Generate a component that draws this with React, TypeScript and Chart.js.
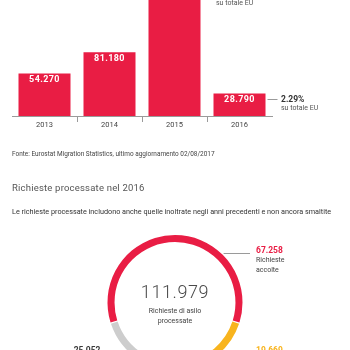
import { useEffect, useRef } from 'react';
import { Chart, registerables } from 'chart.js';

Chart.register(...registerables);

// ---- data ----
const years = ['2013', '2014', '2015', '2016'];
const applications = [54270, 81180, 162450, 28790];
const euShare: (number | null)[] = [null, null, 12.28, 2.29];
const shareCaption = 'su totale EU';
const barScaleMax = 148000;

const decisionLabels = ['Richieste accolte', 'Richieste respinte', 'Altre decisioni'];
const decisionValues = [67258, 19669, 25052];
const decisionCaptions = [['Richieste', 'accolte'], ['Richieste', 'respinte'], ['Altre', 'decisioni']];
const totalProcessed = 111979;
const centerCaption = ['Richieste di asilo', 'processate'];

const sourceText = 'Fonte: Eurostat Migration Statistics, ultimo aggiornamento 02/08/2017';
const titleText = 'Richieste processate nel 2016';
const subtitleText = 'Le richieste processate includono anche quelle inoltrate negli anni precedenti e non ancora smaltite';

// ---- styles ----
const RED = '#E91D44';
const YELLOW = '#F8B41E';
const GRAY = '#CDCDCD';
const FONT = 'Roboto, "Open Sans", sans-serif';

const fmt = (n: number) => String(n).replace(/\B(?=(\d{3})+(?!\d))/g, '.');

const barLabels = {
  id: 'barLabels',
  afterDatasetsDraw(chart: any) {
    const ctx = chart.ctx;
    const meta = chart.getDatasetMeta(0);
    ctx.save();
    meta.data.forEach((bar: any, i: number) => {
      const { x, y, width } = bar.getProps(['x', 'y', 'width'], true);
      ctx.fillStyle = '#fff';
      ctx.font = `bold 9px ${FONT}`;
      ctx.textAlign = 'center';
      ctx.textBaseline = 'middle';
      (ctx as any).letterSpacing = '0.4px';
      ctx.fillText(fmt(applications[i]), x, y + 6);
      (ctx as any).letterSpacing = '0px';
      const share = euShare[i];
      if (share != null) {
        const right = x + width / 2;
        const ly = Math.round(y + 6) + 0.5;
        ctx.strokeStyle = '#9a9a9a';
        ctx.lineWidth = 1;
        ctx.beginPath();
        ctx.moveTo(right + 2, ly);
        ctx.lineTo(right + 12, ly);
        ctx.stroke();
        ctx.textAlign = 'left';
        ctx.fillStyle = '#333';
        ctx.font = `bold 8.5px ${FONT}`;
        ctx.fillText(share.toFixed(2) + '%', right + 15.5, y + 6);
        ctx.fillStyle = '#555';
        ctx.font = `7px ${FONT}`;
        ctx.fillText(shareCaption, right + 15.5, y + 15);
      }
    });
    ctx.restore();
  },
};

const labelPlacement = [
  { dx: 81, dy: -51.5, align: 'left' },
  { dx: 81, dy: 48.5, align: 'left' },
  { dx: -74.5, dy: 48.5, align: 'right' },
];
const labelColors = [RED, YELLOW, '#3a3a3a'];

const donutLabels = {
  id: 'donutLabels',
  afterDraw(chart: any) {
    const ctx = chart.ctx;
    const arc = chart.getDatasetMeta(0).data[0];
    const { x: cx, y: cy, outerRadius } = arc.getProps(['x', 'y', 'outerRadius'], true);
    ctx.save();
    ctx.textBaseline = 'middle';
    ctx.textAlign = 'center';
    ctx.fillStyle = '#4a4a4a';
    ctx.font = `300 18px ${FONT}`;
    (ctx as any).letterSpacing = '0.6px';
    ctx.fillText(fmt(totalProcessed), cx, cy - 9.5);
    (ctx as any).letterSpacing = '0px';
    ctx.font = `7px ${FONT}`;
    ctx.fillStyle = '#444';
    ctx.fillText(centerCaption[0], cx, cy + 8.5);
    ctx.fillText(centerCaption[1], cx, cy + 18.5);

    decisionValues.forEach((v, i) => {
      const p = labelPlacement[i];
      const tx = cx + p.dx;
      const ty = cy + p.dy;
      const ly = Math.round(ty + 2) + 0.5;
      const r = outerRadius + 2;
      const dyl = ly - cy;
      const side = p.align === 'left' ? 1 : -1;
      const sx = cx + side * Math.sqrt(Math.max(r * r - dyl * dyl, 0));
      ctx.strokeStyle = '#9a9a9a';
      ctx.lineWidth = 1;
      ctx.beginPath();
      ctx.moveTo(sx, ly);
      ctx.lineTo(tx - side * 6, ly);
      ctx.stroke();
      ctx.textAlign = p.align;
      ctx.fillStyle = labelColors[i];
      ctx.font = `bold 8.5px ${FONT}`;
      ctx.fillText(fmt(v), tx, ty);
      ctx.fillStyle = '#444';
      ctx.font = `7px ${FONT}`;
      ctx.fillText(decisionCaptions[i][0], tx, ty + 9.5);
      ctx.fillText(decisionCaptions[i][1], tx, ty + 18.8);
    });
    ctx.restore();
  },
};

export default function App() {
  const barRef = useRef<HTMLCanvasElement>(null);
  const donutRef = useRef<HTMLCanvasElement>(null);
  const textRef = useRef<HTMLCanvasElement>(null);

  useEffect(() => {
    const bar = new Chart(barRef.current!, {
      type: 'bar',
      data: {
        labels: years,
        datasets: [
          {
            data: applications,
            backgroundColor: RED,
            borderWidth: 0,
            barPercentage: 0.8,
            categoryPercentage: 1,
          },
        ],
      },
      options: {
        responsive: false,
        animation: false,
        layout: { padding: { left: 12, right: 78, top: 0, bottom: 0 } },
        plugins: { legend: { display: false }, tooltip: { enabled: false } },
        scales: {
          x: {
            offset: true,
            afterFit: (s: any) => {
              s.height = 19;
            },
            grid: {
              offset: true,
              drawOnChartArea: false,
              drawTicks: true,
              tickLength: 6,
              color: (c: any) => (c.index === undefined || c.index === 0 ? 'rgba(0,0,0,0)' : '#9a9a9a'),
            },
            border: { display: true, color: '#9a9a9a', width: 1 },
            ticks: { color: '#444', font: { size: 7.5, family: FONT }, padding: -1 },
          },
          y: { display: false, min: 0, max: barScaleMax },
        },
      } as any,
      plugins: [barLabels],
    });

    const total = decisionValues.reduce((a, b) => a + b, 0);
    const donut = new Chart(donutRef.current!, {
      type: 'doughnut',
      data: {
        labels: decisionLabels,
        datasets: [
          {
            data: decisionValues,
            backgroundColor: [RED, YELLOW, GRAY],
            borderWidth: 0,
            spacing: 1,
          },
        ],
      },
      options: {
        responsive: false,
        animation: false,
        rotation: -(decisionValues[0] / total) * 180,
        radius: 67,
        cutout: '89.5%',
        layout: { padding: 0 },
        plugins: { legend: { display: false }, tooltip: { enabled: false } },
      } as any,
      plugins: [donutLabels],
    });

    const tctx = textRef.current!.getContext('2d')!;
    tctx.clearRect(0, 0, 350, 80);
    tctx.textBaseline = 'middle';
    tctx.textAlign = 'left';
    tctx.fillStyle = '#444';
    tctx.font = `6.45px ${FONT}`;
    tctx.fillText(sourceText, 12, 14.5);
    tctx.fillStyle = '#555';
    tctx.font = `9.5px ${FONT}`;
    (tctx as any).letterSpacing = '0.2px';
    tctx.fillText(titleText, 12, 48.3);
    (tctx as any).letterSpacing = '0px';
    tctx.fillStyle = '#333';
    tctx.font = `7.25px ${FONT}`;
    tctx.fillText(subtitleText, 12, 71.7);

    return () => {
      bar.destroy();
      donut.destroy();
    };
  }, []);

  return (
    <div
      style={{
        position: 'fixed',
        left: 0,
        top: 0,
        width: 350,
        height: 350,
        overflow: 'hidden',
        background: '#fff',
        fontFamily: FONT,
      }}
    >
      <canvas ref={barRef} width={350} height={135} style={{ position: 'absolute', left: 0, top: 0 }} />
      <canvas
        ref={textRef}
        width={350}
        height={80}
        style={{ position: 'absolute', left: 0, top: 140 }}
        aria-label={`${sourceText}. ${titleText}. ${subtitleText}`}
      />
      <canvas ref={donutRef} width={350} height={165} style={{ position: 'absolute', left: 0, top: 220 }} />
    </div>
  );
}
